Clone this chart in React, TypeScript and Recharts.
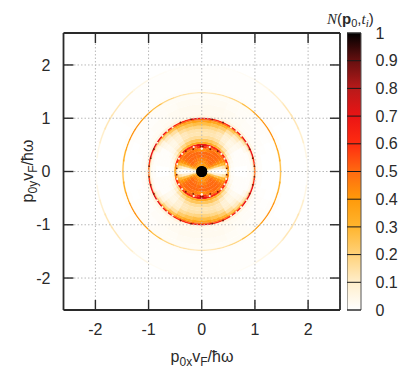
import { ScatterChart, Scatter, XAxis, YAxis, CartesianGrid, ReferenceArea } from "recharts";

const FONT = "'Liberation Sans', Arial, sans-serif";
const INK = "#2a2a2a";
const AXIS_TICKS = [-2, -1, 0, 1, 2];
const BAR_TICKS = [0, 0.1, 0.2, 0.3, 0.4, 0.5, 0.6, 0.7, 0.8, 0.9, 1];

// colour scale, one stop per 0.1
const PALETTE = ["#ffffff", "#ffeecb", "#ffd27a", "#ffb52e", "#ff9a0a", "#ff6a10", "#ff2c10", "#ea1414", "#b81a1a", "#661010", "#000000"];

// polar bins of the first quadrant (the picture is mirrored on both axes)
const ANGLES = [0, 8, 16, 24, 32, 40, 50, 60, 70, 80, 90];
const RADII = [0.1, 0.15, 0.2, 0.26, 0.32, 0.38, 0.44, 0.48, 0.52, 0.56, 0.62, 0.68, 0.74, 0.8, 0.86, 0.92, 0.96, 0.985, 1.015, 1.06, 1.14, 1.26, 1.38, 1.47, 1.495, 1.56, 1.975, 2.0, 2.6];

// one row per angle band, one value per radius band
const BAND_4 = [0.03, 0.02, 0.01, 0.01, 0.01, 0.02, 0.06, 0.35, 0.03, 0.01, 0, 0, 0, 0, 0.01, 0.02, 0.08, 0.5, 0.03, 0.01, 0, 0, 0, 0.25, 0, 0, 0.02, 0];
const BAND_12 = [0.1, 0.1, 0.08, 0.08, 0.1, 0.14, 0.22, 0.45, 0.05, 0.02, 0.01, 0.01, 0.01, 0.01, 0.01, 0.03, 0.1, 0.6, 0.04, 0.01, 0, 0, 0, 0.32, 0, 0, 0.05, 0];
const BAND_20 = [0.2, 0.25, 0.25, 0.25, 0.28, 0.3, 0.38, 0.6, 0.08, 0.03, 0.01, 0.01, 0.01, 0.01, 0.01, 0.03, 0.1, 0.7, 0.05, 0.01, 0.005, 0, 0.005, 0.38, 0.01, 0, 0.1, 0];
const BAND_28 = [0.35, 0.4, 0.42, 0.42, 0.42, 0.42, 0.45, 0.6, 0.12, 0.05, 0.02, 0.01, 0.01, 0.01, 0.03, 0.07, 0.16, 0.72, 0.05, 0.015, 0.01, 0.005, 0.01, 0.42, 0.01, 0, 0.13, 0];
const BAND_36 = [0.4, 0.45, 0.48, 0.48, 0.48, 0.48, 0.48, 0.6, 0.18, 0.09, 0.04, 0.03, 0.03, 0.04, 0.06, 0.12, 0.22, 0.7, 0.05, 0.02, 0.01, 0.01, 0.01, 0.42, 0.01, 0.003, 0.13, 0];
const BAND_45 = [0.4, 0.45, 0.5, 0.5, 0.5, 0.5, 0.45, 0.58, 0.24, 0.14, 0.07, 0.05, 0.05, 0.07, 0.11, 0.18, 0.3, 0.65, 0.06, 0.02, 0.015, 0.01, 0.015, 0.38, 0.01, 0.003, 0.1, 0];
const BAND_55 = [0.4, 0.45, 0.48, 0.5, 0.5, 0.5, 0.45, 0.6, 0.28, 0.18, 0.11, 0.08, 0.08, 0.1, 0.15, 0.24, 0.36, 0.65, 0.06, 0.025, 0.02, 0.015, 0.02, 0.28, 0.01, 0.005, 0.05, 0];
const BAND_65 = [0.4, 0.44, 0.48, 0.5, 0.5, 0.48, 0.48, 0.62, 0.32, 0.22, 0.15, 0.12, 0.12, 0.16, 0.22, 0.3, 0.42, 0.6, 0.06, 0.03, 0.025, 0.02, 0.02, 0.19, 0.01, 0.005, 0.02, 0];
const BAND_75 = [0.4, 0.42, 0.45, 0.48, 0.5, 0.45, 0.5, 0.65, 0.34, 0.24, 0.16, 0.13, 0.14, 0.18, 0.25, 0.34, 0.44, 0.62, 0.05, 0.03, 0.03, 0.025, 0.02, 0.15, 0.01, 0.005, 0.01, 0];
const BAND_85 = [0.4, 0.42, 0.45, 0.5, 0.5, 0.42, 0.6, 0.7, 0.34, 0.24, 0.16, 0.13, 0.14, 0.19, 0.27, 0.36, 0.46, 0.7, 0.05, 0.03, 0.03, 0.025, 0.02, 0.13, 0.01, 0.005, 0.005, 0];
const BANDS = [BAND_4, BAND_12, BAND_20, BAND_28, BAND_36, BAND_45, BAND_55, BAND_65, BAND_75, BAND_85];

// speckles on the two inner rings, first quadrant
const WHITE_SPOTS = [[0, 0.43], [0.15, 0.46], [0.37, 0.33], [0.43, 0.24], [0.46, 0.14], [0.55, 0.83], [0.65, 0.76], [0.74, 0.67], [0.84, 0.54]];
const DARK_SPOTS = [[0.02, 0.47], [0.16, 0.42], [0.3, 0.38], [0.47, 0.06], [0.2, 0.98], [0.4, 0.92], [0.9, 0.42], [0.96, 0.25], [0.99, 0.1]];
const CENTRE = [{ x: 0, y: 0 }];
const BAR_ANCHOR = [{ x: 0.5, y: 0.5 }];

const CHART_W = 415;
const CHART_H = 377;
const PLOT = { left: 63.5, right: 340, top: 33, bottom: 310 };
const DOMAIN: [number, number] = [-2.6, 2.6];
const PX = (PLOT.right - PLOT.left) / 5.2;
const OVERLAP = (0.6 * Math.PI) / 180; // closes the seams between angle bands

function colorOf(v: number) {
  const p = Math.min(v, 1) * 10;
  const i = Math.min(Math.floor(p), 9);
  const f = p - i;
  const hex = (s: string, o: number) => parseInt(s.slice(o, o + 2), 16);
  const mix = (o: number) => Math.round(hex(PALETTE[i], o) + (hex(PALETTE[i + 1], o) - hex(PALETTE[i], o)) * f);
  return `rgb(${mix(1)},${mix(3)},${mix(5)})`;
}

type Cell = { x: number; y: number; r0: number; r1: number; t0: number; t1: number; sx: number; sy: number; v: number };

const QUADRANTS = [[1, 1], [-1, 1], [-1, -1], [1, -1]];

function cellsFor(sx: number, sy: number) {
  const cells: Cell[] = [];
  BANDS.forEach((row, a) => {
    row.forEach((v, b) => {
      if (v <= 0) return;
      const r0 = RADII[b], r1 = RADII[b + 1];
      const t0 = (ANGLES[a] * Math.PI) / 180, t1 = (ANGLES[a + 1] * Math.PI) / 180;
      const rm = (r0 + r1) / 2, tm = (t0 + t1) / 2;
      cells.push({ x: sx * rm * Math.cos(tm), y: sy * rm * Math.sin(tm), r0, r1, t0, t1, sx, sy, v });
    });
  });
  return cells;
}

const mirror = (list: number[][]) =>
  list.flatMap(([x, y]) => QUADRANTS.map(([sx, sy]) => ({ x: sx * x, y: sy * y })));

function HeatCell(props: any) {
  const c: Cell = props.payload;
  const ox = props.cx - c.x * PX;
  const oy = props.cy + c.y * PX;
  const at = (r: number, t: number) => `${ox + c.sx * PX * r * Math.cos(t)} ${oy - c.sy * PX * r * Math.sin(t)}`;
  const a0 = c.t0 - OVERLAP, a1 = c.t1 + OVERLAP;
  const tm = (a0 + a1) / 2;
  // four straight pieces per arc are close enough at this size
  const steps = [a0, (a0 + tm) / 2, tm, (tm + a1) / 2, a1];
  const outer = steps.map((t) => at(c.r1, t));
  const inner = steps.slice().reverse().map((t) => at(c.r0, t));
  const d = `M${outer.concat(inner).join("L")}Z`;
  const fill = colorOf(c.v);
  return <path d={d} fill={fill} stroke={fill} strokeWidth={0.15} />;
}

// one chart per quadrant, stacked under the axes
function HeatLayer({ sx, sy }: { sx: number; sy: number }) {
  return (
    <div style={{ position: "absolute", left: 0, top: 0, filter: "blur(0.4px)" }}>
      <ScatterChart
        width={CHART_W}
        height={CHART_H}
        margin={{ left: PLOT.left, right: CHART_W - PLOT.right, top: PLOT.top, bottom: CHART_H - PLOT.bottom }}
      >
        <XAxis dataKey="x" type="number" domain={DOMAIN} hide />
        <YAxis dataKey="y" type="number" domain={DOMAIN} hide />
        <Scatter data={cellsFor(sx, sy)} shape={HeatCell} isAnimationActive={false} />
      </ScatterChart>
    </div>
  );
}

const spot = (fill: string, r: number) => (props: any) => <circle cx={props.cx} cy={props.cy} r={r} fill={fill} />;

const tickStyle = { fontSize: 16, fill: INK, fontFamily: FONT };
const axisLine = { stroke: INK, strokeWidth: 1.8 };
const tickLine = { stroke: INK, strokeWidth: 1.4 };
const blank = () => "";

export default function App() {
  return (
    <div style={{ position: "absolute", left: 0, top: 0, width: CHART_W, height: CHART_H, background: "#fff", fontFamily: FONT }}>
      {QUADRANTS.map(([sx, sy]) => (
        <HeatLayer key={`${sx}${sy}`} sx={sx} sy={sy} />
      ))}
      <div style={{ position: "absolute", left: 0, top: 0 }}>
        <ScatterChart
          width={CHART_W}
          height={CHART_H}
          margin={{ left: PLOT.left - 50, right: CHART_W - PLOT.right - 1, top: PLOT.top - 1, bottom: CHART_H - PLOT.bottom - 50 }}
        >
          <XAxis dataKey="x" type="number" domain={DOMAIN} ticks={AXIS_TICKS} interval={0} height={50} axisLine={axisLine} tickLine={tickLine} tick={tickStyle} tickSize={-10} tickMargin={24} />
          <YAxis dataKey="y" type="number" domain={DOMAIN} ticks={AXIS_TICKS} interval={0} width={50} axisLine={axisLine} tickLine={tickLine} tick={tickStyle} tickSize={-10} tickMargin={23} />
          <XAxis xAxisId="top" orientation="top" dataKey="x" type="number" domain={DOMAIN} ticks={AXIS_TICKS} interval={0} height={1} axisLine={axisLine} tickLine={tickLine} tickFormatter={blank} tickSize={-10} />
          <YAxis yAxisId="right" orientation="right" dataKey="y" type="number" domain={DOMAIN} ticks={AXIS_TICKS} interval={0} width={1} axisLine={axisLine} tickLine={tickLine} tickFormatter={blank} tickSize={-10} />
          <Scatter data={mirror(WHITE_SPOTS)} shape={spot("#fff3e0", 1.1)} isAnimationActive={false} />
          <Scatter data={mirror(DARK_SPOTS)} shape={spot("#7a1c06", 0.9)} isAnimationActive={false} />
          <Scatter data={CENTRE} shape={spot("#000", 5.5)} isAnimationActive={false} />
          <Scatter xAxisId="top" yAxisId="right" data={CENTRE} shape={spot("#000", 5.5)} isAnimationActive={false} />
          <CartesianGrid stroke="#b9b9b9" strokeDasharray="1.5 2" strokeWidth={1} />
          <text x={202} y={362} textAnchor="middle" fontSize={16} fill={INK} fontFamily={FONT}>
            p<tspan dy={4} fontSize={12}>0x</tspan>
            <tspan dy={-4}>v</tspan>
            <tspan dy={4} fontSize={12}>F</tspan>
            <tspan dy={-4}>/ħω</tspan>
          </text>
          <text x={33} y={171} textAnchor="middle" fontSize={16} fill={INK} fontFamily={FONT} transform="rotate(-90 33 171)">
            p<tspan dy={4} fontSize={12}>0y</tspan>
            <tspan dy={-4}>v</tspan>
            <tspan dy={4} fontSize={12}>F</tspan>
            <tspan dy={-4}>/ħω</tspan>
          </text>
        </ScatterChart>
      </div>
      <div style={{ position: "absolute", left: 347, top: 0 }}>
        <ScatterChart width={68} height={CHART_H} margin={{ left: 0, right: 0, top: PLOT.top, bottom: CHART_H - PLOT.bottom }}>
          <defs>
            <linearGradient id="scale" x1="0" y1="1" x2="0" y2="0">
              {PALETTE.map((c, i) => (
                <stop key={c} offset={`${i * 10}%`} stopColor={c} />
              ))}
            </linearGradient>
          </defs>
          <XAxis dataKey="x" type="number" domain={[0, 1]} hide />
          <YAxis dataKey="y" orientation="right" type="number" domain={[0, 1]} ticks={BAR_TICKS} interval={0} width={54} axisLine={false} tickLine={{ stroke: "#1a1a1a", strokeWidth: 1 }} tick={tickStyle} tickSize={-14} tickMargin={28.5} />
          <ReferenceArea x1={0} x2={1} y1={0} y2={1} fill="url(#scale)" fillOpacity={1} stroke="#555" strokeWidth={1} />
          <Scatter data={BAR_ANCHOR} shape={() => <g />} isAnimationActive={false} />
        </ScatterChart>
      </div>
      <svg width={CHART_W} height={30} style={{ position: "absolute", left: 0, top: 0 }}>
        <text x={327} y={24} fontSize={15} fill={INK} fontFamily={FONT}>
          <tspan fontFamily="'Liberation Serif', serif" fontStyle="italic">N</tspan>
          <tspan>(</tspan>
          <tspan fontWeight="bold">p</tspan>
          <tspan dy={3} fontSize={11}>0</tspan>
          <tspan dy={-3}>,</tspan>
          <tspan fontFamily="'Liberation Serif', serif" fontStyle="italic">t</tspan>
          <tspan dy={3} fontSize={11} fontFamily="'Liberation Serif', serif" fontStyle="italic">i</tspan>
          <tspan dy={-3}>)</tspan>
        </text>
      </svg>
    </div>
  );
}
